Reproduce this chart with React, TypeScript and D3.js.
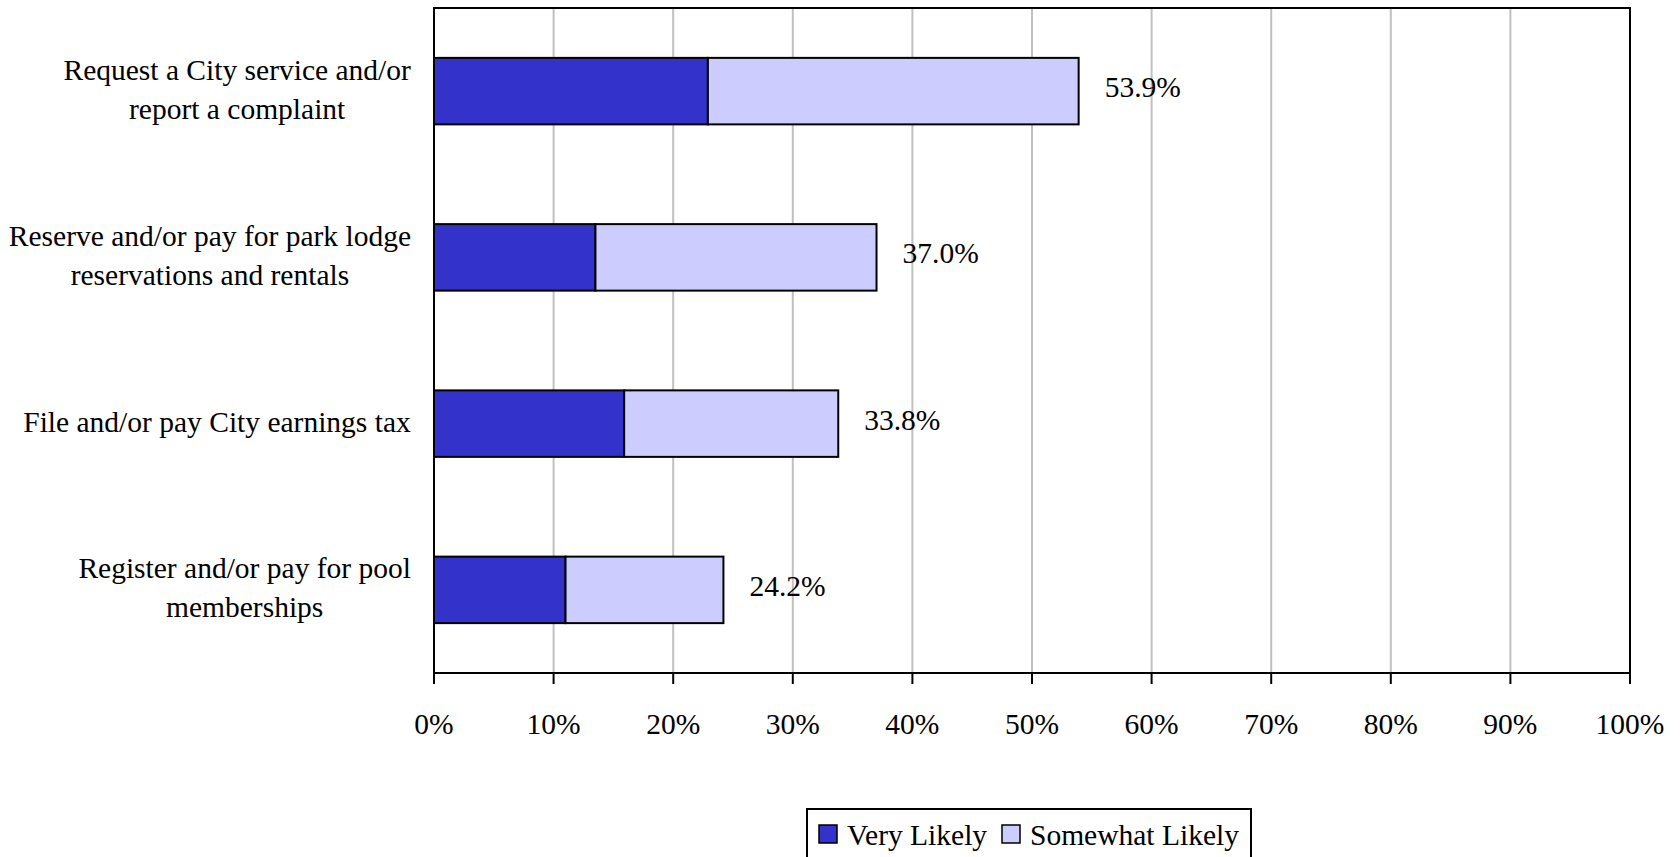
import React, { useEffect, useRef } from "react";
import * as d3 from "d3";

const categories = [
  ["Request a City service and/or", "report a complaint"],
  ["Reserve and/or pay for park lodge", "reservations and rentals"],
  ["File and/or pay City earnings tax"],
  ["Register and/or pay for pool", "memberships"],
];
const veryLikely = [22.9, 13.5, 15.9, 11.0];
const somewhatLikely = [31.0, 23.5, 17.9, 13.2];
const totalLabels = ["53.9%", "37.0%", "33.8%", "24.2%"];
const xTicks = [0, 10, 20, 30, 40, 50, 60, 70, 80, 90, 100];
const seriesNames = ["Very Likely", "Somewhat Likely"];
const seriesColors = ["#3333CC", "#CCCCFF"];

const W = 1680;
const H = 857;
const FONT = "'Liberation Serif', 'Times New Roman', serif";
const FS = 29.5;

export default function App() {
  const ref = useRef<SVGSVGElement>(null);

  useEffect(() => {
    const svg = d3.select(ref.current);
    svg.selectAll("*").remove();

    const left = 434, right = 1630, top = 8, bottom = 673;
    const x = d3.scaleLinear().domain([0, 100]).range([left, right]);
    const y = d3
      .scaleBand<number>()
      .domain(d3.range(categories.length))
      .range([top, bottom])
      .paddingInner(0.6)
      .paddingOuter(0.3);

    // gridlines
    svg
      .append("g")
      .selectAll("line")
      .data(xTicks.filter((t) => t > 0 && t < 100))
      .join("line")
      .attr("x1", (d) => x(d))
      .attr("x2", (d) => x(d))
      .attr("y1", top)
      .attr("y2", bottom)
      .attr("stroke", "#c0c0c0")
      .attr("stroke-width", 2);

    // stacked bars
    const stackData = categories.map((_, i) => ({ i, vl: veryLikely[i], sl: somewhatLikely[i] }));
    const stacked = d3.stack<any>().keys(["vl", "sl"])(stackData);
    stacked.forEach((layer, li) => {
      svg
        .append("g")
        .selectAll("rect")
        .data(layer)
        .join("rect")
        .attr("x", (d) => x(d[0]))
        .attr("width", (d) => x(d[1]) - x(d[0]))
        .attr("y", (d: any) => y(d.data.i)!)
        .attr("height", y.bandwidth())
        .attr("fill", seriesColors[li])
        .attr("stroke", "#000")
        .attr("stroke-width", 2);
    });

    // plot border
    svg
      .append("rect")
      .attr("x", left)
      .attr("y", top)
      .attr("width", right - left)
      .attr("height", bottom - top)
      .attr("fill", "none")
      .attr("stroke", "#000")
      .attr("stroke-width", 2);

    // ticks
    svg
      .append("g")
      .selectAll("line")
      .data(xTicks)
      .join("line")
      .attr("x1", (d) => x(d))
      .attr("x2", (d) => x(d))
      .attr("y1", bottom)
      .attr("y2", bottom + 11)
      .attr("stroke", "#000")
      .attr("stroke-width", 2);

    svg
      .append("g")
      .selectAll("text")
      .data(xTicks)
      .join("text")
      .attr("x", (d) => x(d))
      .attr("y", 734)
      .attr("text-anchor", "middle")
      .attr("font-family", FONT)
      .attr("font-size", FS)
      .text((d) => `${d}%`);

    // total labels
    svg
      .append("g")
      .selectAll("text")
      .data(totalLabels)
      .join("text")
      .attr("x", (_, i) => x(veryLikely[i] + somewhatLikely[i]) + 26)
      .attr("y", (_, i) => y(i)! + y.bandwidth() / 2 + 6)
      .attr("font-family", FONT)
      .attr("font-size", FS)
      .text((d) => d);

    // category labels
    categories.forEach((lines, i) => {
      const cy = y(i)! + y.bandwidth() / 2;
      const g = svg.append("g");
      const lh = 39;
      const n = lines.length;
      lines.forEach((ln, k) => {
        g.append("text")
          .attr("x", 0)
          .attr("y", cy + 8 + (k - (n - 1) / 2) * lh)
          .attr("text-anchor", "middle")
          .attr("font-family", FONT)
          .attr("font-size", FS)
          .text(ln);
      });
      const bb = (g.node() as SVGGElement).getBBox();
      g.attr("transform", `translate(${411 - (bb.x + bb.width)},0)`);
    });

    // legend
    const lg = svg.append("g");
    lg.append("rect")
      .attr("x", 807)
      .attr("y", 809)
      .attr("width", 444)
      .attr("height", 80)
      .attr("fill", "#fff")
      .attr("stroke", "#000")
      .attr("stroke-width", 2);
    const legendX = [819, 1002];
    seriesNames.forEach((name, i) => {
      lg.append("rect")
        .attr("x", legendX[i])
        .attr("y", 825)
        .attr("width", 18)
        .attr("height", 18)
        .attr("fill", seriesColors[i])
        .attr("stroke", "#000")
        .attr("stroke-width", 1.5);
      lg.append("text")
        .attr("x", legendX[i] + 28)
        .attr("y", 845)
        .attr("font-family", FONT)
        .attr("font-size", FS)
        .text(name);
    });
  }, []);

  return (
    <svg
      ref={ref}
      width={W}
      height={H}
      style={{ position: "absolute", left: 0, top: 0, background: "#fff" }}
    />
  );
}
